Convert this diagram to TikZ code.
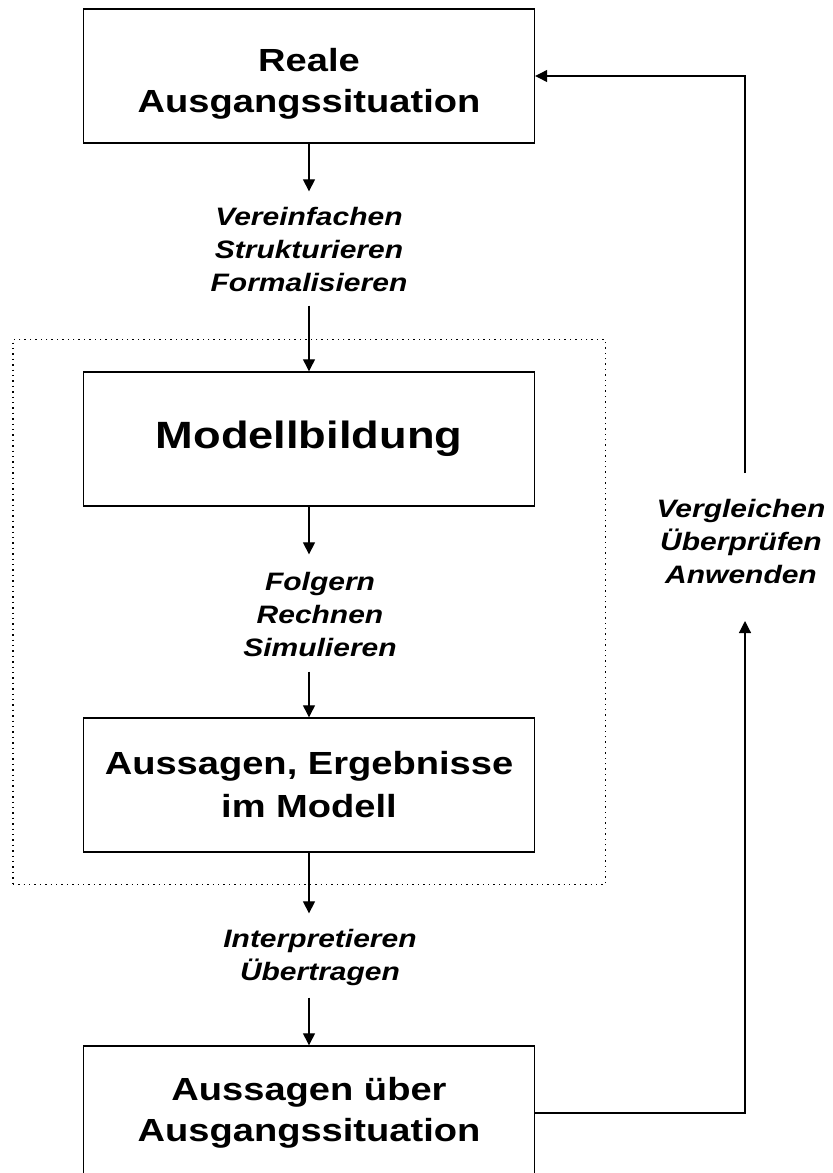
\documentclass[tikz,border=0pt]{standalone}
\usepackage{fontspec}
\setmainfont{Liberation Sans}[FakeStretch=1.19]
\usepackage{tikz}
\usetikzlibrary{arrows.meta, positioning, fit}

\begin{document}
\begin{tikzpicture}[x=0.5pt, y=-0.5pt,
  stage/.style={draw, line width=0.7pt, minimum width=225.5pt, minimum height=67pt,
              font=\fontsize{16}{20.5}\selectfont\bfseries, inner sep=2pt, align=center},
  act/.style={font=\fontsize{12.6}{16.5}\selectfont\bfseries\itshape, inner sep=2pt, align=center},
  >={Triangle[length=6pt, width=6pt]}]
\useasboundingbox (0,0) rectangle (832,1173);
\node[stage, text height=40pt] (real) at (309,76) {Reale\\Ausgangssituation};
\node[act] (simp) at (309,249) {Vereinfachen\\Strukturieren\\Formalisieren};
\node[stage, font=\fontsize{19}{23}\selectfont\bfseries] (model) at (309,439) {Modellbildung};
\node[act] (calc) at (320,614) {Folgern\\Rechnen\\Simulieren};
\node[stage, font=\fontsize{16}{21.5}\selectfont\bfseries] (res) at (309,785) {Aussagen, Ergebnisse\\im Modell};
\node[act] (interp) at (320,957) {Interpretieren\\Übertragen};
\node[stage] (back) at (309,1113) {Aussagen über\\Ausgangssituation};
\node[act] (check) at (741,541) {Vergleichen\\Überprüfen\\Anwenden};
\node[draw, dotted, line width=0.7pt, fit=(model)(res), inner xsep=35pt, inner ysep=16pt] (frame) {};
\coordinate (up) at (745,473);
\coordinate (lo) at (745,621);
\draw[->, line width=0.6pt, shorten >=5.5pt] (real) -- (real |- simp.north);
\draw[->, line width=0.6pt, shorten <=5pt] (model |- simp.south) -- (model);
\draw[->, line width=0.6pt, shorten >=6.5pt] (model) -- (model |- calc.north);
\draw[->, line width=0.6pt, shorten <=5.5pt] (res |- calc.south) -- (res);
\draw[->, line width=0.6pt, shorten >=5.5pt] (res) -- (res |- interp.north);
\draw[->, line width=0.6pt, shorten <=4pt] (back |- interp.south) -- (back);
\draw[->, line width=0.6pt] (back.east) -| (lo);
\draw[->, line width=0.6pt] (up) |- (real.east);
\end{tikzpicture}
\end{document}
